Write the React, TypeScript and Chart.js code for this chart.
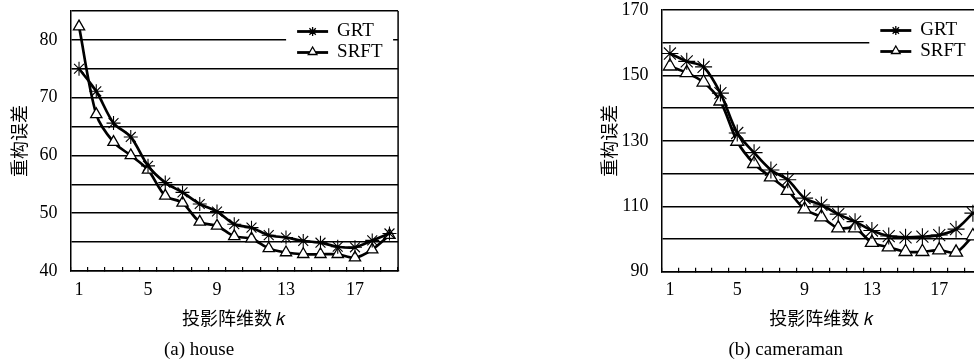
import React, { useEffect, useRef } from 'react';
import { Chart, registerables } from 'chart.js';

Chart.register(...registerables);

// ---------- data ----------
const kLabels = ['1', '2', '3', '4', '5', '6', '7', '8', '9', '10', '11', '12', '13', '14', '15', '16', '17', '18', '19'];
const xShownLabels = ['1', '5', '9', '13', '17'];
const seriesNames = ['GRT', 'SRFT'];

const houseGRT = [75.0, 71.1, 65.6, 63.2, 58.2, 55.3, 53.6, 51.6, 50.3, 48.1, 47.5, 46.2, 45.8, 45.2, 44.9, 44.2, 44.1, 45.3, 46.5];
const houseSRFT = [82.3, 67.1, 62.3, 60.0, 57.5, 53.0, 51.8, 48.5, 47.8, 46.0, 45.6, 43.9, 43.2, 42.9, 42.9, 42.9, 42.3, 43.7, 46.2];

const camGRT = [156.7, 154.3, 152.6, 144.6, 132.4, 126.4, 121.1, 118.1, 112.5, 110.4, 107.6, 105.3, 102.6, 100.9, 100.5, 100.7, 101.2, 103.0, 107.9];
const camSRFT = [152.8, 150.8, 147.9, 142.1, 129.8, 123.0, 118.9, 114.8, 109.1, 106.7, 103.3, 103.3, 98.9, 97.5, 96.1, 96.1, 96.6, 95.9, 100.9];

const yTitleText = '重构误差';
const xTitleText = '投影阵维数 𝑘';
const captionTexts = ['(a) house', '(b) cameraman'];

// ---------- styling ----------
const SERIF = '"Liberation Serif", "Noto Sans CJK SC", serif';
const CJK = '"Liberation Serif", "Noto Sans CJK SC", sans-serif';

type PanelSpec = {
  left: number;
  width: number;
  height: number;
  yAxisWidth: number;
  padTop: number;
  padRight: number;
  xScaleHeight: number;
  yMin: number;
  yMax: number;
  yStep: number;
  yLabelStep: number;
  grt: number[];
  srft: number[];
  caption: string;
  starR: number;
  triR: number;
};

const panels: PanelSpec[] = [
  {
    left: 0, width: 470, height: 362,
    yAxisWidth: 70.4, padTop: 11, padRight: 71.9, xScaleHeight: 67.2,
    yMin: 40, yMax: 85, yStep: 5, yLabelStep: 10,
    grt: houseGRT, srft: houseSRFT, caption: captionTexts[0],
    starR: 7, triR: 6.5,
  },
  {
    left: 590, width: 470, height: 362,
    yAxisWidth: 71.5, padTop: 10, padRight: 78.7, xScaleHeight: 66.5,
    yMin: 90, yMax: 170, yStep: 10, yLabelStep: 20,
    grt: camGRT, srft: camSRFT, caption: captionTexts[1],
    starR: 8.5, triR: 7.5,
  },
];

const framePlugin = {
  id: 'frameRight',
  beforeDatasetsDraw(chart: any) {
    const { ctx, chartArea } = chart;
    ctx.save();
    ctx.strokeStyle = '#000';
    ctx.lineWidth = 1.5;
    ctx.beginPath();
    ctx.moveTo(chartArea.right, chartArea.top);
    ctx.lineTo(chartArea.right, chartArea.bottom);
    ctx.stroke();
    ctx.restore();
  },
};

function drawStar(ctx: CanvasRenderingContext2D, x: number, y: number, r: number) {
  ctx.beginPath();
  for (let i = 0; i < 4; i++) {
    const a = (i * Math.PI) / 4;
    ctx.moveTo(x - Math.cos(a) * r, y - Math.sin(a) * r);
    ctx.lineTo(x + Math.cos(a) * r, y + Math.sin(a) * r);
  }
  ctx.stroke();
}

function drawTriangle(ctx: CanvasRenderingContext2D, x: number, y: number, r: number) {
  ctx.beginPath();
  for (let i = 0; i < 3; i++) {
    const a = (i * 2 * Math.PI) / 3;
    const px = x + Math.sin(a) * r;
    const py = y - Math.cos(a) * r;
    if (i === 0) ctx.moveTo(px, py);
    else ctx.lineTo(px, py);
  }
  ctx.closePath();
  ctx.fillStyle = '#fff';
  ctx.fill();
  ctx.stroke();
}

const boxLegendPlugin = {
  id: 'boxLegend',
  afterDraw(chart: any) {
    const { ctx, chartArea } = chart;
    const right = chartArea.right;
    const top = chartArea.top;
    ctx.save();
    ctx.fillStyle = '#fff';
    ctx.fillRect(right - 112, top + 3, 107, 48);
    const names = chart.data.datasets.map((d: any) => d.label);
    names.forEach((name: string, i: number) => {
      const y = top + 20.5 + i * 21;
      const x0 = right - 101;
      ctx.strokeStyle = '#000';
      ctx.lineWidth = 2.8;
      ctx.beginPath();
      ctx.moveTo(x0, y);
      ctx.lineTo(x0 + 31, y);
      ctx.stroke();
      ctx.lineWidth = 1.3;
      if (i === 0) drawStar(ctx, x0 + 15.5, y, 4.5);
      else drawTriangle(ctx, x0 + 15.5, y - 0.5, 5);
      ctx.fillStyle = '#000';
      ctx.font = `19px ${SERIF}`;
      ctx.textBaseline = 'middle';
      ctx.textAlign = 'left';
      ctx.fillText(name, right - 61, y);
    });
    ctx.restore();
  },
};

function Panel({ spec }: { spec: PanelSpec }) {
  const ref = useRef<HTMLCanvasElement | null>(null);
  useEffect(() => {
    if (!ref.current) return;
    const chart = new Chart(ref.current, {
      type: 'line',
      data: {
        labels: kLabels,
        datasets: [
          {
            label: seriesNames[0],
            data: spec.grt,
            borderColor: '#000',
            borderWidth: 2.7,
            tension: 0.3,
            fill: false,
            pointStyle: 'star',
            pointRadius: spec.starR,
            pointBorderColor: '#000',
            pointBackgroundColor: '#000',
            pointBorderWidth: 1.1,
          },
          {
            label: seriesNames[1],
            data: spec.srft,
            borderColor: '#000',
            borderWidth: 2.7,
            tension: 0.3,
            fill: false,
            pointStyle: 'triangle',
            pointRadius: spec.triR,
            pointBorderColor: '#000',
            pointBackgroundColor: '#fff',
            pointBorderWidth: 1.3,
          },
        ],
      },
      options: {
        responsive: false,
        animation: false,
        devicePixelRatio: 1,
        layout: { padding: { top: spec.padTop, right: spec.padRight, left: 0, bottom: 0 } },
        plugins: {
          legend: { display: false },
          tooltip: { enabled: false },
          title: {
            display: true,
            text: spec.caption,
            position: 'bottom',
            color: '#000',
            font: { family: SERIF, size: 19, weight: 'normal' },
            padding: { top: 0, bottom: 1 },
          },
        },
        scales: {
          x: {
            type: 'category',
            offset: true,
            grid: {
              offset: true,
              drawOnChartArea: false,
              drawTicks: true,
              tickLength: -4,
              color: '#000',
              lineWidth: 1.2,
            },
            border: { display: true, color: '#000', width: 1.5 },
            ticks: {
              autoSkip: false,
              maxRotation: 0,
              minRotation: 0,
              padding: 12,
              color: '#000',
              font: { family: SERIF, size: 18 },
              callback: (_v: any, i: number) => (xShownLabels.includes(kLabels[i]) ? kLabels[i] : ''),
            },
            title: {
              display: true,
              text: xTitleText,
              color: '#000',
              font: { family: CJK, size: 18 },
              padding: { top: 0, bottom: 7.4 },
            },
            afterFit: (s: any) => {
              s.height = spec.xScaleHeight;
              s.paddingLeft = 0;
              s.paddingRight = 0;
            },
          },
          y: {
            min: spec.yMin,
            max: spec.yMax,
            grid: { color: '#000', lineWidth: 1.5, drawTicks: false },
            border: { display: true, color: '#000', width: 1.5 },
            ticks: {
              stepSize: spec.yStep,
              padding: 13,
              color: '#000',
              font: { family: SERIF, size: 18 },
              callback: (v: any) => {
                const n = Number(v);
                const r = Math.abs((n - spec.yMin) % spec.yLabelStep);
                return r < 0.001 || Math.abs(r - spec.yLabelStep) < 0.001 ? String(n) : '';
              },
            },
            title: {
              display: true,
              text: yTitleText,
              color: '#000',
              font: { family: CJK, size: 18 },
              padding: { top: 10, bottom: 0 },
            },
            afterFit: (s: any) => {
              s.width = spec.yAxisWidth;
              s.paddingTop = 0;
              s.paddingBottom = 0;
            },
          },
        },
      },
      plugins: [framePlugin, boxLegendPlugin],
    } as any);
    return () => chart.destroy();
  }, [spec]);
  return (
    <canvas
      ref={ref}
      width={spec.width}
      height={spec.height}
      style={{ position: 'absolute', left: spec.left, top: 0, width: spec.width, height: spec.height }}
    />
  );
}

export default function App() {
  return (
    <div
      style={{
        position: 'fixed',
        left: 0,
        top: 0,
        width: 974,
        height: 362,
        overflow: 'hidden',
        background: '#fff',
      }}
    >
      {panels.map((p, i) => (
        <Panel key={i} spec={p} />
      ))}
    </div>
  );
}
